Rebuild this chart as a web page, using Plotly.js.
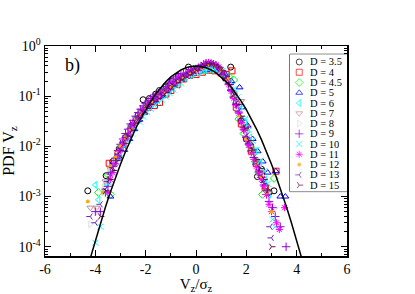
<!DOCTYPE html>
<html>
<head>
<meta charset="utf-8">
<script src="https://cdn.plot.ly/plotly-3.0.1.min.js"></script>
<style>html,body{margin:0;padding:0;background:#fff;}#chart{width:415px;height:294px;}</style>
</head>
<body>
<div id="chart"></div>
<script>
// ---- data ----
var seriesLabels = ["D = 3.5","D = 4","D = 4.5","D = 5","D = 6","D = 7","D = 8","D = 9","D = 10","D = 11","D = 12","D = 13","D = 15"];

var x_D35 = [-4.3,-3.57,-3.3,-3.05,-2.8,-2.55,-2.3,-2.1,-1.85,-1.6,-1.45,-1.2,-0.95,-0.7,-0.3,-0.05,0.2,0.45,0.7,0.95,1.15,1.38,1.6,1.8,2.0,2.17,2.44,2.6,2.75,2.9,3.1];
var y_D35 = [0.0013,0.0026,0.005,0.009,0.015,0.026,0.042,0.085,0.09,0.11,0.13,0.16,0.2,0.25,0.38,0.33,0.36,0.4,0.38,0.31,0.23,0.38,0.075,0.032,0.014,0.0104,0.0025,0.0035,0.0016,0.0012,0.0013];

var x_D4 = [-3.45,-3.3,-3.1,-2.9,-2.7,-2.5,-2.3,-2.1,-1.9,-1.65,-1.45,-1.2,-1.0,-0.75,-0.5,-0.25,0.0,0.25,0.5,0.75,1.0,1.2,1.43,1.6,1.8,1.95,2.2,2.4,2.6,2.75,3.18];
var y_D4 = [0.0046,0.0046,0.007,0.011,0.016,0.024,0.035,0.05,0.06,0.065,0.075,0.11,0.13,0.17,0.22,0.26,0.27,0.3,0.33,0.32,0.29,0.27,0.32,0.06,0.028,0.024,0.008,0.0045,0.0028,0.0015,0.0032];

var x_D45 = [-3.88,-3.49,-3.4,-3.15,-2.95,-2.75,-2.55,-2.35,-2.15,-1.95,-1.7,-1.45,-1.2,-0.95,-0.7,-0.45,-0.2,0.05,0.3,0.55,0.8,1.05,1.3,1.5,1.7,1.9,2.16,2.37,2.5,2.64,3.1];
var y_D45 = [0.0012,0.0027,0.0011,0.006,0.01,0.015,0.024,0.035,0.05,0.065,0.085,0.11,0.14,0.17,0.21,0.24,0.27,0.3,0.33,0.35,0.33,0.3,0.25,0.21,0.035,0.018,0.0098,0.0049,0.003,0.0011,0.0023];

var x_D5 = [-3.4,-3.27,-3.05,-2.85,-2.65,-2.45,-2.25,-2.05,-1.85,-1.6,-1.35,-1.1,-0.85,-0.6,-0.35,-0.1,0.15,0.4,0.65,0.9,1.15,1.4,1.73,1.85,2.05,2.25,2.45,2.65,2.85,3.17,3.35,3.55];
var y_D5 = [0.001,0.0049,0.006,0.0085,0.014,0.022,0.034,0.047,0.062,0.08,0.1,0.13,0.17,0.21,0.25,0.28,0.31,0.33,0.34,0.31,0.28,0.2,0.15,0.06,0.026,0.014,0.008,0.005,0.003,0.0032,0.001,0.001];

var x_D6 = [-4.0,-3.88,-3.55,-3.35,-3.15,-2.95,-2.75,-2.55,-2.35,-2.15,-1.9,-1.65,-1.4,-1.15,-0.9,-0.65,-0.4,-0.15,0.1,0.35,0.6,0.85,1.1,1.35,1.55,1.75,1.95,2.15,2.35,2.55,2.75,2.9];
var y_D6 = [0.0017,0.00086,0.0018,0.0035,0.006,0.01,0.015,0.023,0.033,0.046,0.062,0.08,0.1,0.13,0.17,0.2,0.24,0.27,0.3,0.33,0.34,0.32,0.28,0.19,0.11,0.06,0.03,0.015,0.008,0.0045,0.0022,0.0011];

var x_D7 = [-4.2,-3.95,-3.6,-3.4,-3.2,-3.0,-2.8,-2.6,-2.4,-2.2,-2.0,-1.75,-1.5,-1.25,-1.0,-0.75,-0.5,-0.25,0.0,0.25,0.5,0.75,1.0,1.25,1.5,1.8,2.0,2.2,2.4,2.6,2.9];
var y_D7 = [0.0006,0.0006,0.002,0.0035,0.0055,0.009,0.014,0.021,0.03,0.043,0.058,0.075,0.095,0.12,0.16,0.19,0.23,0.27,0.3,0.34,0.37,0.35,0.3,0.2,0.11,0.08,0.018,0.009,0.005,0.003,0.0012];

var x_D8 = [-4.2,-3.9,-3.65,-3.45,-3.25,-3.05,-2.85,-2.65,-2.45,-2.25,-2.05,-1.8,-1.55,-1.3,-1.05,-0.8,-0.55,-0.3,-0.05,0.2,0.45,0.7,0.95,1.2,1.45,1.65,1.85,2.05,2.25,2.45,2.65,2.85,3.15];
var y_D8 = [0.00028,0.0005,0.0015,0.003,0.005,0.008,0.013,0.02,0.029,0.041,0.055,0.072,0.09,0.115,0.15,0.19,0.22,0.26,0.3,0.34,0.38,0.38,0.33,0.22,0.12,0.06,0.03,0.013,0.007,0.004,0.0025,0.0012,0.0006];

var x_D9 = [-4.0,-3.8,-3.6,-3.5,-3.4,-3.3,-3.2,-3.1,-3.0,-2.9,-2.8,-2.7,-2.6,-2.5,-2.4,-2.3,-2.2,-2.1,-2.0,-1.9,-1.8,-1.7,-1.6,-1.5,-1.4,-1.3,-1.2,-1.1,-1.0,-0.9,-0.8,-0.7,-0.6,-0.5,-0.4,-0.3,-0.2,-0.1,0.0,0.1,0.2,0.3,0.4,0.5,0.6,0.7,0.8,0.9,1.0,1.1,1.2,1.3,1.4,1.5,1.6,1.7,1.8,1.9,2.0,2.1,2.2,2.3,2.4,2.5,2.6,2.7,2.8,2.9,3.04,3.15,3.35,3.58];
var y_D9 = [0.0005,0.0005,0.0012,0.0016,0.003,0.004,0.0058,0.0083,0.011,0.014,0.018,0.022,0.028,0.033,0.04,0.047,0.055,0.064,0.072,0.08,0.09,0.098,0.107,0.115,0.125,0.138,0.155,0.17,0.19,0.21,0.23,0.25,0.265,0.28,0.29,0.3,0.32,0.34,0.35,0.37,0.4,0.43,0.45,0.45,0.44,0.43,0.4,0.36,0.32,0.27,0.22,0.17,0.13,0.095,0.068,0.048,0.033,0.022,0.015,0.011,0.008,0.006,0.0043,0.0032,0.0024,0.0017,0.0011,0.0008,0.0006,0.0004,0.00025,0.0001];

var x_D10 = [-4.0,-3.8,-3.6,-3.45,-3.3,-3.15,-3.0,-2.85,-2.7,-2.55,-2.4,-2.25,-2.1,-1.95,-1.8,-1.65,-1.5,-1.35,-1.2,-1.05,-0.9,-0.75,-0.6,-0.45,-0.3,-0.15,0.0,0.15,0.3,0.45,0.6,0.75,0.9,1.05,1.2,1.35,1.5,1.65,1.8,1.95,2.1,2.25,2.4,2.55,2.7,2.85,3.05,3.15];
var y_D10 = [0.00012,0.00025,0.0012,0.0019,0.003,0.0047,0.007,0.0098,0.013,0.018,0.024,0.031,0.039,0.048,0.056,0.065,0.075,0.085,0.098,0.115,0.136,0.157,0.18,0.22,0.25,0.275,0.3,0.32,0.34,0.36,0.36,0.35,0.34,0.32,0.27,0.2,0.14,0.095,0.06,0.035,0.021,0.013,0.0085,0.0052,0.0032,0.0018,0.00035,0.00025];

var x_D11 = [-3.5,-3.4,-3.3,-3.2,-3.1,-3.0,-2.9,-2.8,-2.7,-2.6,-2.5,-2.4,-2.3,-2.2,-2.1,-2.0,-1.9,-1.8,-1.7,-1.6,-1.5,-1.4,-1.3,-1.2,-1.1,-1.0,-0.9,-0.8,-0.7,-0.6,-0.5,-0.4,-0.3,-0.2,-0.1,0.0,0.1,0.2,0.3,0.4,0.5,0.6,0.7,0.8,0.9,1.0,1.1,1.2,1.3,1.4,1.5,1.6,1.7,1.8,1.9,2.0,2.1,2.2,2.3,2.4,2.5,2.6,2.7,2.8,2.9,3.0,3.2,3.31,3.52];
var y_D11 = [0.0012,0.0022,0.003,0.0045,0.0065,0.0085,0.011,0.014,0.017,0.021,0.026,0.031,0.037,0.044,0.051,0.058,0.066,0.073,0.08,0.088,0.096,0.105,0.117,0.13,0.145,0.16,0.18,0.2,0.215,0.23,0.25,0.27,0.285,0.3,0.315,0.33,0.355,0.38,0.42,0.46,0.47,0.46,0.44,0.42,0.38,0.33,0.28,0.22,0.17,0.125,0.09,0.065,0.045,0.03,0.021,0.014,0.0105,0.0075,0.0055,0.004,0.003,0.0022,0.0016,0.0011,0.0007,0.0005,0.0003,0.00022,0.0006];

var x_D12 = [-4.3,-3.7,-3.4,-3.2,-3.0,-2.8,-2.6,-2.4,-2.2,-2.0,-1.75,-1.5,-1.25,-1.0,-0.75,-0.5,-0.25,0.0,0.25,0.5,0.75,1.0,1.25,1.5,1.75,2.0,2.2,2.4,2.6,2.8,3.0];
var y_D12 = [0.0008,0.0012,0.004,0.006,0.01,0.015,0.022,0.032,0.045,0.06,0.078,0.1,0.125,0.16,0.2,0.24,0.28,0.32,0.36,0.42,0.4,0.33,0.22,0.1,0.04,0.014,0.008,0.0045,0.0025,0.0012,0.0005];

var x_D13 = [-4.2,-4.0,-3.8,-3.6,-3.5,-3.4,-3.3,-3.2,-3.1,-3.0,-2.9,-2.8,-2.7,-2.6,-2.5,-2.4,-2.3,-2.2,-2.1,-2.0,-1.9,-1.8,-1.7,-1.6,-1.5,-1.4,-1.3,-1.2,-1.1,-1.0,-0.9,-0.8,-0.7,-0.6,-0.5,-0.4,-0.3,-0.2,-0.1,0.0,0.1,0.2,0.3,0.4,0.5,0.6,0.7,0.8,0.9,1.0,1.1,1.2,1.3,1.4,1.5,1.6,1.7,1.8,1.9,2.0,2.1,2.2,2.3,2.4,2.5,2.6,2.7,2.8,2.95,3.0];
var y_D13 = [0.0004,0.0003,0.0007,0.0014,0.002,0.0028,0.0038,0.0052,0.007,0.0092,0.0118,0.015,0.018,0.023,0.027,0.033,0.039,0.046,0.053,0.06,0.067,0.075,0.082,0.09,0.098,0.107,0.118,0.132,0.147,0.163,0.18,0.197,0.215,0.232,0.25,0.268,0.285,0.305,0.325,0.345,0.37,0.395,0.42,0.44,0.45,0.45,0.43,0.4,0.37,0.33,0.28,0.23,0.18,0.135,0.1,0.072,0.05,0.035,0.024,0.016,0.0115,0.0083,0.006,0.0045,0.0034,0.0026,0.0019,0.0013,0.00025,0.00015];

var x_D15 = [-3.8,-3.6,-3.45,-3.3,-3.15,-3.0,-2.85,-2.7,-2.55,-2.4,-2.25,-2.1,-1.95,-1.8,-1.65,-1.5,-1.35,-1.2,-1.05,-0.9,-0.75,-0.6,-0.45,-0.3,-0.15,0.0,0.15,0.3,0.45,0.6,0.75,0.9,1.05,1.2,1.35,1.5,1.65,1.8,1.95,2.1,2.25,2.4,2.55,2.7,2.85,3.0];
var y_D15 = [0.0004,0.0013,0.0022,0.0033,0.0052,0.0082,0.0115,0.016,0.021,0.029,0.037,0.047,0.057,0.068,0.079,0.09,0.102,0.118,0.137,0.16,0.185,0.21,0.24,0.265,0.29,0.33,0.37,0.41,0.44,0.44,0.42,0.38,0.32,0.25,0.17,0.11,0.068,0.04,0.023,0.013,0.0085,0.0055,0.0036,0.0022,0.0013,0.0001];

// black reference curve
var curveX = [-4.2,-4.0,-3.8,-3.6,-3.4,-3.2,-3.0,-2.8,-2.6,-2.4,-2.2,-2.0,-1.8,-1.6,-1.4,-1.2,-1.0,-0.8,-0.6,-0.4,-0.2,0.0,0.2,0.4,0.6,0.8,1.0,1.2,1.4,1.6,1.8,2.0,2.2,2.4,2.6,2.8,3.0,3.2,3.4,3.6,3.8,4.0,4.2];
var curveY = [0.000059,0.000134,0.00029,0.00061,0.00123,0.00238,0.0044,0.0079,0.0136,0.0224,0.0355,0.054,0.079,0.111,0.150,0.194,0.242,0.290,0.333,0.368,0.391,0.399,0.391,0.368,0.333,0.290,0.242,0.194,0.150,0.111,0.079,0.054,0.0355,0.0224,0.0136,0.0079,0.0044,0.00238,0.00123,0.00061,0.00029,0.000134,0.000059];

var yTickVals = [1e-4,1e-3,1e-2,1e-1,1];
var yTickText = ["10<sup>-4</sup>","10<sup>-3</sup>","10<sup>-2</sup>","10<sup>-1</sup>","10<sup>0</sup>"];

// ---- styles ----
var xs = [x_D35,x_D4,x_D45,x_D5,x_D6,x_D7,x_D8,x_D9,x_D10,x_D11,x_D12,x_D13,x_D15];
var ys = [y_D35,y_D4,y_D45,y_D5,y_D6,y_D7,y_D8,y_D9,y_D10,y_D11,y_D12,y_D13,y_D15];
var colors = ["#000000","#ff0000","#00ff00","#0000ff","#00ffff","#bc8f8f","#dcdcdc","#9400d3","#00ffff","#ff00ff","#ffa500","#7221bc","#670748"];
var symbols = ["circle-open","square-open","diamond-open","triangle-up-open","triangle-left-open","triangle-down-open","triangle-right-open","cross-thin-open","x-thin-open","asterisk-open","circle","y-left-open","y-right-open"];
var sizes = [6,6,6,6,6,6,6,6,6,6,3,5,5];

var font = '"Liberation Serif", "Times New Roman", serif';
var traces = [];
for (var i = 0; i < xs.length; i++) {
  traces.push({
    x: xs[i], y: ys[i], type: "scatter", mode: "markers", showlegend: false,
    marker: {symbol: symbols[i], size: sizes[i], color: colors[i], line: {color: colors[i], width: 1}},
    hoverinfo: "skip"
  });
}
traces.push({x: curveX, y: curveY, type: "scatter", mode: "lines", showlegend: false,
  line: {color: "#000", width: 1.5}, hoverinfo: "skip"});

// legend markers on their own small axis
var legIdx = [];
for (var k = 0; k < seriesLabels.length; k++) legIdx.push(k);
traces.push({
  x: seriesLabels.map(function(){return 0.163;}), y: legIdx, xaxis: "x2", yaxis: "y2",
  type: "scatter", mode: "markers", showlegend: false, hoverinfo: "skip",
  marker: {symbol: symbols, size: sizes, color: colors, line: {color: colors, width: 1}}
});

var annotations = seriesLabels.map(function(t, k) {
  return {text: t, x: 0.33, y: k, xref: "x2", yref: "y2", xanchor: "left", yanchor: "middle",
    showarrow: false, height: 9, borderpad: 0, valign: "middle",
    font: {family: font, size: 10.5, color: "#000"}};
});
annotations.push({text: "b)", x: -4.89, y: -0.384, xref: "x", yref: "y", showarrow: false,
  font: {family: font, size: 18, color: "#000"}});

var minorVals = [];
[1e-5,1e-4,1e-3,1e-2,1e-1].forEach(function(d){ for (var m = 2; m <= 9; m++) minorVals.push(m*d); });

var axisCommon = {showline: true, linecolor: "#000", linewidth: 1.5, mirror: "allticks",
  ticks: "inside", ticklen: 6, tickwidth: 1, tickcolor: "#000", showgrid: false, zeroline: false,
  tickfont: {family: font, size: 14, color: "#000"}};

var layout = {
  width: 415, height: 294,
  margin: {l: 45, r: 68, t: 46, b: 38},
  paper_bgcolor: "#fff", plot_bgcolor: "#fff",
  font: {family: font, color: "#000"},
  xaxis: Object.assign({}, axisCommon, {
    range: [-6, 6], tickvals: [-6,-4,-2,0,2,4,6], ticktext: ["-6","-4","-2","0","2","4","6"],
    minor: {tickvals: [-5,-3,-1,1,3,5], ticks: "inside", ticklen: 3, tickcolor: "#000"},
    title: {text: "V<sub>z</sub>/σ<sub>z</sub>", font: {family: font, size: 15, color: "#000"}, standoff: 6}
  }),
  yaxis: Object.assign({}, axisCommon, {
    type: "log", range: [-4.185, 0], tickvals: yTickVals, ticktext: yTickText,
    minor: {tickvals: minorVals, ticks: "inside", ticklen: 3, tickcolor: "#000"},
    title: {text: "PDF V<sub>z</sub>", font: {family: font, size: 16, color: "#000"}, standoff: 4}
  }),
  xaxis2: {domain: [0.811, 1], range: [0, 1], visible: false, fixedrange: true, anchor: "y2"},
  yaxis2: {domain: [0.3067, 0.9605], range: [12.63, -0.75], visible: false, fixedrange: true, anchor: "x2"},
  shapes: [{type: "rect", xref: "paper", yref: "paper", x0: 0.811, x1: 1.0, y0: 0.3067, y1: 0.9605,
    line: {color: "#000", width: 1}, fillcolor: "#fff", layer: "below"}],
  annotations: annotations
};

Plotly.newPlot("chart", traces, layout, {staticPlot: true, displayModeBar: false});
</script>
</body>
</html>
